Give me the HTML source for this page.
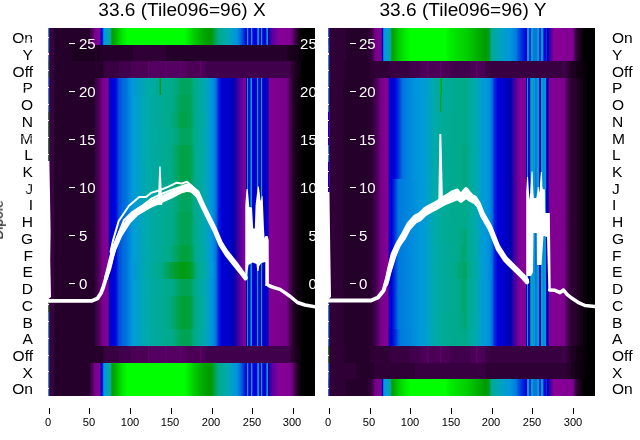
<!DOCTYPE html>
<html><head><meta charset="utf-8"><style>
html,body{margin:0;padding:0}
body{width:640px;height:440px;background:#fff;position:relative;overflow:hidden;font-family:"Liberation Sans",sans-serif}
.r{position:absolute;width:267px}
.lg{background:linear-gradient(to right,#670075 0.5px,#670075 1.5px,#380040 2.5px,#380040 5.5px,#25002b 6.5px,#25002b 41.5px,#4b0055 43.5px,#5d006b 45.5px,#79008a 46.5px,#850096 51.5px,#3800a3 52.5px,#0000dd 53.5px,#001cdd 54.5px,#007ddd 55.5px,#009adb 56.5px,#00a8af 61.5px,#00aa93 62.5px,#009e28 63.5px,#009c00 64.5px,#00e700 74.5px,#00ff00 79.5px,#00ff00 136.5px,#00c700 147.5px,#00a400 156.5px,#009a00 162.5px,#009a08 163.5px,#009f33 165.5px,#00a13d 166.5px,#00a97d 169.5px,#00aa8b 170.5px,#00aaab 178.5px,#0095dd 188.5px,#0070dd 192.5px,#0025dd 196.5px,#0009dd 197.5px,#0000d1 198.5px,#009cd3 199.5px,#002fdd 200.5px,#0000d1 201.5px,#0000d1 202.5px,#009cd3 203.5px,#0041dd 204.5px,#0000dd 205.5px,#0000dd 208.5px,#0078dd 209.5px,#009cd3 210.5px,#0000d1 211.5px,#0000d1 212.5px,#009cd3 213.5px,#0025dd 214.5px,#0000c9 215.5px,#0000c9 217.5px,#0067dd 218.5px,#0098dd 219.5px,#0300aa 220.5px,#2d00a4 221.5px,#3800a3 222.5px,#4d00a0 223.5px,#63009e 225.5px,#63009e 226.5px,#78009b 228.5px,#78009b 229.5px,#870098 231.5px,#820093 240.5px,#79008a 243.5px,#380040 247.5px,#000000 253.5px,#000000 266.5px)}
.ld1{background:linear-gradient(to right,#670075 0.5px,#670075 1.5px,#380040 2.5px,#380040 5.5px,#25002b 6.5px,#25002b 23.5px,#1c0020 24.5px,#1c0020 46.5px,#25002b 47.5px,#25002b 48.5px,#1c0020 49.5px,#1c0020 51.5px,#25002b 52.5px,#25002b 84.5px,#2f0035 85.5px,#2f0035 117.5px,#25002b 118.5px,#25002b 238.5px,#1c0020 239.5px,#130015 250.5px,#09000b 251.5px,#09000b 254.5px,#000000 255.5px,#000000 266.5px)}
.ld2{background:linear-gradient(to right,#670075 0.5px,#670075 1.5px,#380040 2.5px,#380040 5.5px,#25002b 6.5px,#25002b 54.5px,#380040 56.5px,#380040 70.5px,#41004b 71.5px,#41004b 82.5px,#4b0055 83.5px,#4b0055 99.5px,#5d006b 100.5px,#4b0055 102.5px,#540060 103.5px,#540060 116.5px,#5d006b 117.5px,#5d006b 118.5px,#540060 119.5px,#540060 131.5px,#5d006b 132.5px,#540060 133.5px,#540060 138.5px,#4b0055 139.5px,#4b0055 151.5px,#5d006b 152.5px,#4b0055 154.5px,#4b0055 157.5px,#41004b 158.5px,#41004b 241.5px,#2f0035 243.5px,#2f0035 244.5px,#130015 249.5px,#130015 251.5px,#000000 254.5px,#000000 266.5px)}
.lm3{background:linear-gradient(to right,#670075 0.5px,#670075 1.5px,#380040 2.5px,#380040 5.5px,#25002b 6.5px,#25002b 44.5px,#1c0020 45.5px,#2f0035 46.5px,#41004b 48.5px,#41004b 49.5px,#79008a 54.5px,#860097 59.5px,#58009f 60.5px,#0000b1 61.5px,#0000d1 62.5px,#0000d9 64.5px,#0000dd 66.5px,#0013dd 68.5px,#002fdd 69.5px,#0054dd 71.5px,#0054dd 72.5px,#0067dd 74.5px,#0070dd 77.5px,#0095dd 83.5px,#00aaa8 99.5px,#00aa98 110.5px,#00a55d 111.5px,#009a00 112.5px,#00aa95 113.5px,#00aa88 125.5px,#00a97d 126.5px,#00a97d 128.5px,#00a55d 133.5px,#00a55d 142.5px,#00aa8b 146.5px,#00a7b3 157.5px,#009adb 162.5px,#0085dd 166.5px,#0067dd 168.5px,#0025dd 170.5px,#0013dd 171.5px,#0000d9 173.5px,#0000c1 183.5px,#0000b1 185.5px,#2300a6 188.5px,#3800a3 189.5px,#83009a 196.5px,#83009a 197.5px,#0000b1 198.5px,#00a3bf 199.5px,#0013dd 200.5px,#0000c1 201.5px,#005ddd 202.5px,#009cd3 203.5px,#0000d1 204.5px,#0000d1 208.5px,#009fcb 209.5px,#0025dd 210.5px,#0000d1 211.5px,#0000d1 212.5px,#00aaab 213.5px,#0013dd 214.5px,#0000b9 215.5px,#0000b9 216.5px,#0000d1 217.5px,#0000d1 219.5px,#3800a3 220.5px,#810092 221.5px,#79008a 238.5px,#700080 239.5px,#4b0055 241.5px,#25002b 245.5px,#25002b 246.5px,#130015 248.5px,#130015 249.5px,#09000b 250.5px,#09000b 253.5px,#000000 254.5px,#000000 266.5px)}
.lm4{background:linear-gradient(to right,#670075 0.5px,#670075 1.5px,#380040 2.5px,#380040 5.5px,#25002b 6.5px,#25002b 44.5px,#1c0020 45.5px,#2f0035 46.5px,#41004b 48.5px,#41004b 49.5px,#79008a 54.5px,#860097 59.5px,#58009f 60.5px,#0000b1 61.5px,#0000d1 62.5px,#0000dd 66.5px,#0013dd 68.5px,#002fdd 69.5px,#0054dd 71.5px,#0054dd 72.5px,#0067dd 74.5px,#0070dd 77.5px,#009adb 84.5px,#00aaa8 99.5px,#00aa88 124.5px,#00a353 133.5px,#00a353 142.5px,#00a55d 143.5px,#00a773 144.5px,#00aa88 146.5px,#00a7b3 157.5px,#009adb 162.5px,#0085dd 166.5px,#0067dd 168.5px,#0025dd 170.5px,#0013dd 171.5px,#0000d9 173.5px,#0000c1 183.5px,#0000b1 185.5px,#2300a6 188.5px,#3800a3 189.5px,#83009a 196.5px,#83009a 197.5px,#0000b1 198.5px,#00a3bf 199.5px,#0013dd 200.5px,#0000c1 201.5px,#005ddd 202.5px,#009cd3 203.5px,#0000d1 204.5px,#0000d1 208.5px,#009fcb 209.5px,#0025dd 210.5px,#0000d1 211.5px,#0000d1 212.5px,#00aaab 213.5px,#0013dd 214.5px,#0000b9 215.5px,#0000b9 216.5px,#0000d1 217.5px,#0000d1 219.5px,#3800a3 220.5px,#810092 221.5px,#79008a 238.5px,#700080 239.5px,#4b0055 241.5px,#25002b 245.5px,#25002b 246.5px,#130015 248.5px,#130015 249.5px,#09000b 250.5px,#09000b 253.5px,#000000 254.5px,#000000 266.5px)}
.lm5{background:linear-gradient(to right,#670075 0.5px,#670075 1.5px,#380040 2.5px,#380040 5.5px,#25002b 6.5px,#25002b 44.5px,#1c0020 45.5px,#2f0035 46.5px,#41004b 48.5px,#41004b 49.5px,#79008a 54.5px,#860097 59.5px,#58009f 60.5px,#0000b1 61.5px,#0000d1 62.5px,#0000dd 66.5px,#0013dd 68.5px,#002fdd 69.5px,#0054dd 71.5px,#0054dd 72.5px,#0067dd 74.5px,#0070dd 77.5px,#009adb 84.5px,#00aaa8 99.5px,#00aa88 123.5px,#00a97d 124.5px,#00a668 129.5px,#00a353 131.5px,#00a353 132.5px,#00a248 133.5px,#00a248 138.5px,#00a353 139.5px,#00a353 142.5px,#00a668 144.5px,#00a97d 145.5px,#00aa88 146.5px,#00aaab 156.5px,#009adb 162.5px,#0085dd 166.5px,#0067dd 168.5px,#0025dd 170.5px,#0013dd 171.5px,#0000d9 173.5px,#0000c1 183.5px,#0000b1 185.5px,#2300a6 188.5px,#3800a3 189.5px,#83009a 196.5px,#83009a 197.5px,#0000b1 198.5px,#00a3bf 199.5px,#0013dd 200.5px,#0000c1 201.5px,#005ddd 202.5px,#009cd3 203.5px,#0000d1 204.5px,#0000d1 208.5px,#009fcb 209.5px,#0025dd 210.5px,#0000d1 211.5px,#0000d1 212.5px,#00aaab 213.5px,#0013dd 214.5px,#0000b9 215.5px,#0000b9 216.5px,#0000d1 217.5px,#0000d1 219.5px,#3800a3 220.5px,#810092 221.5px,#79008a 238.5px,#700080 239.5px,#4b0055 241.5px,#25002b 245.5px,#25002b 246.5px,#130015 248.5px,#130015 249.5px,#09000b 250.5px,#09000b 253.5px,#000000 254.5px,#000000 266.5px)}
.lm6{background:linear-gradient(to right,#670075 0.5px,#670075 1.5px,#380040 2.5px,#380040 5.5px,#25002b 6.5px,#25002b 44.5px,#1c0020 45.5px,#2f0035 46.5px,#41004b 48.5px,#41004b 49.5px,#79008a 54.5px,#860097 59.5px,#58009f 60.5px,#0000b1 61.5px,#0000d1 62.5px,#0000dd 66.5px,#0013dd 68.5px,#002fdd 69.5px,#0054dd 71.5px,#0054dd 72.5px,#0067dd 74.5px,#0070dd 77.5px,#009adb 84.5px,#00aaa8 99.5px,#00aa88 125.5px,#00a97d 126.5px,#00a97d 128.5px,#00a55d 133.5px,#00a55d 142.5px,#00aa8b 146.5px,#00a7b3 157.5px,#009adb 162.5px,#0085dd 166.5px,#0067dd 168.5px,#0025dd 170.5px,#0013dd 171.5px,#0000d9 173.5px,#0000c1 183.5px,#0000b1 185.5px,#2300a6 188.5px,#3800a3 189.5px,#83009a 196.5px,#83009a 197.5px,#0000b1 198.5px,#00a3bf 199.5px,#0013dd 200.5px,#0000c1 201.5px,#005ddd 202.5px,#009cd3 203.5px,#0000d1 204.5px,#0000d1 208.5px,#009fcb 209.5px,#0025dd 210.5px,#0000d1 211.5px,#0000d1 212.5px,#00aaab 213.5px,#0013dd 214.5px,#0000b9 215.5px,#0000b9 216.5px,#0000d1 217.5px,#0000d1 219.5px,#3800a3 220.5px,#810092 221.5px,#79008a 238.5px,#700080 239.5px,#4b0055 241.5px,#25002b 245.5px,#25002b 246.5px,#130015 248.5px,#130015 249.5px,#09000b 250.5px,#09000b 253.5px,#000000 254.5px,#000000 266.5px)}
.lm7{background:linear-gradient(to right,#670075 0.5px,#670075 1.5px,#380040 2.5px,#380040 5.5px,#25002b 6.5px,#25002b 44.5px,#1c0020 45.5px,#2f0035 46.5px,#41004b 48.5px,#41004b 49.5px,#79008a 54.5px,#860097 59.5px,#58009f 60.5px,#0000b1 61.5px,#0000d1 62.5px,#0000dd 66.5px,#0013dd 68.5px,#002fdd 69.5px,#0054dd 71.5px,#0054dd 72.5px,#0067dd 74.5px,#0070dd 77.5px,#009adb 84.5px,#00aaa8 99.5px,#00aa88 123.5px,#00a97d 124.5px,#00a97d 125.5px,#00a668 127.5px,#00a55d 130.5px,#00a248 132.5px,#00a248 141.5px,#00a353 142.5px,#00a353 143.5px,#00aa88 146.5px,#00aaab 156.5px,#009adb 162.5px,#0085dd 166.5px,#0067dd 168.5px,#0025dd 170.5px,#0013dd 171.5px,#0000d9 173.5px,#0000c1 183.5px,#0000b1 185.5px,#2300a6 188.5px,#3800a3 189.5px,#83009a 196.5px,#83009a 197.5px,#0000b1 198.5px,#00a3bf 199.5px,#0013dd 200.5px,#0000c1 201.5px,#005ddd 202.5px,#009cd3 203.5px,#0000d1 204.5px,#0000d1 208.5px,#009fcb 209.5px,#0025dd 210.5px,#0000d1 211.5px,#0000d1 212.5px,#00aaab 213.5px,#0013dd 214.5px,#0000b9 215.5px,#0000b9 216.5px,#0000d1 217.5px,#0000d1 219.5px,#3800a3 220.5px,#810092 221.5px,#79008a 238.5px,#700080 239.5px,#4b0055 241.5px,#25002b 245.5px,#25002b 246.5px,#130015 248.5px,#130015 249.5px,#09000b 250.5px,#09000b 253.5px,#000000 254.5px,#000000 266.5px)}
.lm13{background:linear-gradient(to right,#670075 0.5px,#670075 1.5px,#380040 2.5px,#380040 5.5px,#25002b 6.5px,#25002b 44.5px,#1c0020 45.5px,#2f0035 46.5px,#41004b 48.5px,#41004b 49.5px,#79008a 54.5px,#860097 59.5px,#58009f 60.5px,#0000b1 61.5px,#0000d1 62.5px,#0000dd 66.5px,#0013dd 68.5px,#002fdd 69.5px,#0054dd 71.5px,#0054dd 72.5px,#0067dd 74.5px,#0070dd 77.5px,#009adb 84.5px,#00aaa8 99.5px,#00aa88 122.5px,#00a773 124.5px,#00a55d 129.5px,#00a248 131.5px,#00a248 132.5px,#00a13d 133.5px,#00a13d 139.5px,#00a248 140.5px,#00a248 142.5px,#00a55d 144.5px,#00a773 145.5px,#00aa8b 147.5px,#00aaab 156.5px,#009adb 162.5px,#0092dd 164.5px,#007add 167.5px,#0067dd 168.5px,#0025dd 170.5px,#0013dd 171.5px,#0000d9 173.5px,#0000c1 183.5px,#0000b1 185.5px,#2300a6 188.5px,#3800a3 189.5px,#83009a 196.5px,#83009a 197.5px,#0000b1 198.5px,#00a3bf 199.5px,#0013dd 200.5px,#0000c1 201.5px,#005ddd 202.5px,#009cd3 203.5px,#0000d1 204.5px,#0000d1 208.5px,#009fcb 209.5px,#0025dd 210.5px,#0000d1 211.5px,#0000d1 212.5px,#00aaab 213.5px,#0013dd 214.5px,#0000b9 215.5px,#0000b9 216.5px,#0000d1 217.5px,#0000d1 219.5px,#3800a3 220.5px,#810092 221.5px,#79008a 238.5px,#700080 239.5px,#4b0055 241.5px,#25002b 245.5px,#25002b 246.5px,#130015 248.5px,#130015 249.5px,#09000b 250.5px,#09000b 253.5px,#000000 254.5px,#000000 266.5px)}
.lm14{background:linear-gradient(to right,#670075 0.5px,#670075 1.5px,#380040 2.5px,#380040 5.5px,#25002b 6.5px,#25002b 44.5px,#1c0020 45.5px,#2f0035 46.5px,#41004b 48.5px,#41004b 49.5px,#79008a 54.5px,#860097 59.5px,#58009f 60.5px,#0000b1 61.5px,#0000d1 62.5px,#0000d9 64.5px,#0000dd 66.5px,#0013dd 68.5px,#002fdd 69.5px,#0054dd 71.5px,#0054dd 72.5px,#0067dd 74.5px,#0070dd 77.5px,#0095dd 83.5px,#00aaab 97.5px,#00aa88 113.5px,#00a97d 114.5px,#00a97d 115.5px,#00a668 117.5px,#00a668 118.5px,#00a353 120.5px,#00a353 121.5px,#00a13d 123.5px,#00a13d 124.5px,#009e28 127.5px,#009e28 129.5px,#009b13 132.5px,#009b13 137.5px,#009d1d 138.5px,#009d1d 141.5px,#00a13d 144.5px,#00a773 147.5px,#00aa8b 149.5px,#00aaab 157.5px,#0098dd 163.5px,#0090dd 165.5px,#007ddd 167.5px,#0067dd 168.5px,#0025dd 170.5px,#0000d9 173.5px,#0000c5 182.5px,#0000bd 184.5px,#0000b1 185.5px,#2300a6 188.5px,#3800a3 189.5px,#83009a 196.5px,#83009a 197.5px,#0000b1 198.5px,#00a3bf 199.5px,#0013dd 200.5px,#0000c1 201.5px,#005ddd 202.5px,#009cd3 203.5px,#0000d1 204.5px,#0000d1 208.5px,#009fcb 209.5px,#0025dd 210.5px,#0000d1 211.5px,#0000d1 212.5px,#00aaab 213.5px,#0013dd 214.5px,#0000b9 215.5px,#0000b9 216.5px,#0000d1 217.5px,#0000d1 219.5px,#3800a3 220.5px,#810092 221.5px,#79008a 238.5px,#700080 239.5px,#4b0055 241.5px,#25002b 245.5px,#25002b 246.5px,#130015 248.5px,#130015 249.5px,#09000b 250.5px,#09000b 253.5px,#000000 254.5px,#000000 266.5px)}
.lm16{background:linear-gradient(to right,#670075 0.5px,#670075 1.5px,#380040 2.5px,#380040 5.5px,#25002b 6.5px,#25002b 44.5px,#1c0020 45.5px,#2f0035 46.5px,#41004b 48.5px,#41004b 49.5px,#79008a 54.5px,#860097 59.5px,#58009f 60.5px,#0000b1 61.5px,#0000d1 62.5px,#0000dd 66.5px,#0013dd 68.5px,#002fdd 69.5px,#0054dd 71.5px,#0054dd 72.5px,#0067dd 74.5px,#0070dd 77.5px,#009adb 84.5px,#00aaa8 99.5px,#00aa88 121.5px,#00a97d 122.5px,#00a97d 123.5px,#00a668 125.5px,#00a668 126.5px,#00a353 128.5px,#00a248 131.5px,#009f33 134.5px,#009f33 136.5px,#00a13d 137.5px,#00a13d 142.5px,#00aa88 147.5px,#00aaab 156.5px,#009adb 162.5px,#0098dd 163.5px,#007add 167.5px,#0067dd 168.5px,#0025dd 170.5px,#0013dd 171.5px,#0000d9 173.5px,#0000c1 183.5px,#0000b1 185.5px,#2300a6 188.5px,#3800a3 189.5px,#83009a 196.5px,#83009a 197.5px,#0000b1 198.5px,#00a3bf 199.5px,#0013dd 200.5px,#0000c1 201.5px,#005ddd 202.5px,#009cd3 203.5px,#0000d1 204.5px,#0000d1 208.5px,#009fcb 209.5px,#0025dd 210.5px,#0000d1 211.5px,#0000d1 212.5px,#00aaab 213.5px,#0013dd 214.5px,#0000b9 215.5px,#0000b9 216.5px,#0000d1 217.5px,#0000d1 219.5px,#3800a3 220.5px,#810092 221.5px,#79008a 238.5px,#700080 239.5px,#4b0055 241.5px,#25002b 245.5px,#25002b 246.5px,#130015 248.5px,#130015 249.5px,#09000b 250.5px,#09000b 253.5px,#000000 254.5px,#000000 266.5px)}
.rg{background:linear-gradient(to right,#5d006b 0.5px,#5d006b 1.5px,#2f0035 2.5px,#2f0035 17.5px,#25002b 18.5px,#25002b 39.5px,#2f0035 40.5px,#2f0035 42.5px,#380040 43.5px,#770088 47.5px,#830094 52.5px,#63009e 53.5px,#0000bd 54.5px,#0078dd 55.5px,#009adb 56.5px,#00a2c3 61.5px,#00aa98 62.5px,#009e28 63.5px,#009c00 64.5px,#00bf00 68.5px,#00e400 75.5px,#00ff00 82.5px,#00ff00 117.5px,#00ea00 122.5px,#00d200 137.5px,#009a00 157.5px,#009d1d 160.5px,#009f33 161.5px,#00aa8d 163.5px,#00aa98 164.5px,#009fcb 175.5px,#0095dd 182.5px,#0078dd 188.5px,#0054dd 190.5px,#0041dd 192.5px,#002fdd 193.5px,#0013dd 196.5px,#0000dd 197.5px,#0000dd 198.5px,#009fcb 199.5px,#009fcb 200.5px,#002fdd 201.5px,#002fdd 202.5px,#009fcb 203.5px,#009fcb 204.5px,#0078dd 205.5px,#0078dd 208.5px,#009fcb 209.5px,#009fcb 210.5px,#002fdd 211.5px,#002fdd 212.5px,#009fcb 213.5px,#009fcb 214.5px,#0038dd 215.5px,#0000dd 216.5px,#0009dd 217.5px,#002fdd 218.5px,#0000bd 219.5px,#0000bd 220.5px,#3800a3 221.5px,#4d00a0 222.5px,#58009f 223.5px,#83009a 225.5px,#870098 226.5px,#820093 243.5px,#770088 245.5px,#540060 246.5px,#41004b 247.5px,#1c0020 250.5px,#130015 253.5px,#000000 256.5px,#000000 266.5px)}
.rd2{background:linear-gradient(to right,#5d006b 0.5px,#5d006b 1.5px,#2f0035 2.5px,#2f0035 15.5px,#25002b 16.5px,#25002b 41.5px,#2f0035 42.5px,#2f0035 61.5px,#380040 62.5px,#380040 81.5px,#41004b 82.5px,#41004b 91.5px,#4b0055 92.5px,#4b0055 98.5px,#5d006b 99.5px,#4b0055 101.5px,#4b0055 111.5px,#5d006b 112.5px,#4b0055 114.5px,#4b0055 121.5px,#41004b 122.5px,#41004b 141.5px,#4b0055 142.5px,#4b0055 147.5px,#5d006b 148.5px,#4b0055 150.5px,#4b0055 156.5px,#380040 158.5px,#380040 233.5px,#41004b 234.5px,#41004b 236.5px,#25002b 241.5px,#25002b 243.5px,#1c0020 244.5px,#1c0020 247.5px,#130015 248.5px,#09000b 257.5px,#000000 258.5px,#000000 266.5px)}
.rm3{background:linear-gradient(to right,#5d006b 0.5px,#5d006b 1.5px,#2f0035 2.5px,#2f0035 14.5px,#25002b 15.5px,#25002b 42.5px,#2f0035 43.5px,#2f0035 44.5px,#41004b 46.5px,#41004b 47.5px,#670075 51.5px,#770088 52.5px,#860097 59.5px,#58009f 60.5px,#0000b9 61.5px,#0000d1 62.5px,#0000dd 66.5px,#002fdd 70.5px,#0067dd 73.5px,#0078dd 75.5px,#0090dd 84.5px,#0098dd 91.5px,#009ecf 98.5px,#00aaa8 106.5px,#00aa9d 111.5px,#00bc00 112.5px,#009e28 113.5px,#00aa9b 114.5px,#00aa88 137.5px,#00aa9b 141.5px,#00aaa8 147.5px,#00a0c7 151.5px,#0098dd 158.5px,#008ddd 161.5px,#007add 163.5px,#0067dd 164.5px,#0025dd 166.5px,#0013dd 168.5px,#0000dd 169.5px,#0000bd 180.5px,#0000b1 182.5px,#0d00a8 183.5px,#3800a3 185.5px,#58009f 188.5px,#6d009c 189.5px,#870098 193.5px,#850096 197.5px,#0000c9 198.5px,#00a3bf 199.5px,#0009dd 200.5px,#0000b1 201.5px,#0078dd 202.5px,#00a7b3 203.5px,#00a7b3 204.5px,#0098dd 205.5px,#0098dd 206.5px,#0070dd 207.5px,#007ddd 208.5px,#00a3bf 209.5px,#00a3bf 210.5px,#0000dd 211.5px,#0000dd 212.5px,#00a7b3 213.5px,#00a7b3 214.5px,#0088dd 215.5px,#0098dd 216.5px,#0098dd 217.5px,#0000dd 218.5px,#0000b1 219.5px,#2300a6 220.5px,#820093 221.5px,#7e008f 235.5px,#7a008b 236.5px,#540060 238.5px,#380040 241.5px,#380040 242.5px,#2f0035 243.5px,#25002b 248.5px,#1c0020 249.5px,#1c0020 251.5px,#130015 252.5px,#130015 254.5px,#09000b 255.5px,#09000b 258.5px,#000000 259.5px,#000000 266.5px)}
.rm4{background:linear-gradient(to right,#5d006b 0.5px,#5d006b 1.5px,#2f0035 2.5px,#2f0035 14.5px,#25002b 15.5px,#25002b 42.5px,#2f0035 43.5px,#2f0035 44.5px,#41004b 46.5px,#41004b 47.5px,#670075 51.5px,#770088 52.5px,#860097 59.5px,#58009f 60.5px,#0000b9 61.5px,#0000d1 62.5px,#0000dd 66.5px,#002fdd 70.5px,#0067dd 73.5px,#0078dd 75.5px,#0090dd 84.5px,#009adb 93.5px,#009ecf 98.5px,#00aaa8 106.5px,#00aa9d 111.5px,#009d1d 112.5px,#00a773 113.5px,#00aa9b 114.5px,#00aa88 137.5px,#00aa9b 141.5px,#00aaa8 147.5px,#00a0c7 151.5px,#0098dd 158.5px,#008ddd 161.5px,#007add 163.5px,#0067dd 164.5px,#0025dd 166.5px,#0013dd 168.5px,#0000dd 169.5px,#0000bd 180.5px,#0000b1 182.5px,#0d00a8 183.5px,#3800a3 185.5px,#58009f 188.5px,#6d009c 189.5px,#870098 193.5px,#850096 197.5px,#0000c9 198.5px,#00a3bf 199.5px,#0009dd 200.5px,#0000b1 201.5px,#0078dd 202.5px,#00a7b3 203.5px,#00a7b3 204.5px,#0098dd 205.5px,#0098dd 206.5px,#0070dd 207.5px,#007ddd 208.5px,#00a3bf 209.5px,#00a3bf 210.5px,#0000dd 211.5px,#0000dd 212.5px,#00a7b3 213.5px,#00a7b3 214.5px,#0088dd 215.5px,#0098dd 216.5px,#0098dd 217.5px,#0000dd 218.5px,#0000b1 219.5px,#2300a6 220.5px,#820093 221.5px,#7e008f 235.5px,#7a008b 236.5px,#540060 238.5px,#380040 241.5px,#380040 242.5px,#2f0035 243.5px,#25002b 248.5px,#1c0020 249.5px,#1c0020 251.5px,#130015 252.5px,#130015 254.5px,#09000b 255.5px,#09000b 258.5px,#000000 259.5px,#000000 266.5px)}
.rm5{background:linear-gradient(to right,#5d006b 0.5px,#5d006b 1.5px,#2f0035 2.5px,#2f0035 14.5px,#25002b 15.5px,#25002b 42.5px,#2f0035 43.5px,#2f0035 44.5px,#41004b 46.5px,#41004b 47.5px,#670075 51.5px,#770088 52.5px,#860097 59.5px,#58009f 60.5px,#0000b9 61.5px,#0000d1 62.5px,#0000dd 66.5px,#002fdd 70.5px,#0067dd 73.5px,#0078dd 75.5px,#0090dd 84.5px,#009adb 93.5px,#009ecf 98.5px,#00aaa8 106.5px,#00aa95 117.5px,#00aa88 137.5px,#00aa9b 141.5px,#00aaa8 147.5px,#00a0c7 151.5px,#0098dd 158.5px,#008ddd 161.5px,#007add 163.5px,#0067dd 164.5px,#0025dd 166.5px,#0013dd 168.5px,#0000dd 169.5px,#0000bd 180.5px,#0000b1 182.5px,#0d00a8 183.5px,#3800a3 185.5px,#58009f 188.5px,#6d009c 189.5px,#870098 193.5px,#850096 197.5px,#0000c9 198.5px,#00a3bf 199.5px,#0009dd 200.5px,#0000b1 201.5px,#0078dd 202.5px,#00a7b3 203.5px,#00a7b3 204.5px,#0098dd 205.5px,#0098dd 206.5px,#0070dd 207.5px,#007ddd 208.5px,#00a3bf 209.5px,#00a3bf 210.5px,#0000dd 211.5px,#0000dd 212.5px,#00a7b3 213.5px,#00a7b3 214.5px,#0088dd 215.5px,#0098dd 216.5px,#0098dd 217.5px,#0000dd 218.5px,#0000b1 219.5px,#2300a6 220.5px,#820093 221.5px,#7e008f 235.5px,#7a008b 236.5px,#540060 238.5px,#380040 241.5px,#380040 242.5px,#2f0035 243.5px,#25002b 248.5px,#1c0020 249.5px,#1c0020 251.5px,#130015 252.5px,#130015 254.5px,#09000b 255.5px,#09000b 258.5px,#000000 259.5px,#000000 266.5px)}
.rm7{background:linear-gradient(to right,#5d006b 0.5px,#5d006b 1.5px,#2f0035 2.5px,#2f0035 14.5px,#25002b 15.5px,#25002b 42.5px,#2f0035 43.5px,#2f0035 44.5px,#41004b 46.5px,#41004b 47.5px,#670075 51.5px,#770088 52.5px,#860097 59.5px,#58009f 60.5px,#0000b9 61.5px,#0000d1 62.5px,#0000dd 66.5px,#002fdd 70.5px,#0067dd 73.5px,#0078dd 75.5px,#0090dd 84.5px,#009adb 93.5px,#009ecf 98.5px,#00aaa8 106.5px,#00aa95 117.5px,#00aa88 134.5px,#00a97d 135.5px,#00a97d 137.5px,#00aa98 141.5px,#00aaab 148.5px,#009fcb 152.5px,#0098dd 158.5px,#008ddd 161.5px,#007add 163.5px,#0067dd 164.5px,#0025dd 166.5px,#0013dd 168.5px,#0000dd 169.5px,#0000bd 180.5px,#0000b1 182.5px,#0d00a8 183.5px,#3800a3 185.5px,#58009f 188.5px,#6d009c 189.5px,#870098 193.5px,#850096 197.5px,#0000c9 198.5px,#00a3bf 199.5px,#0009dd 200.5px,#0000b1 201.5px,#0078dd 202.5px,#00a7b3 203.5px,#00a7b3 204.5px,#0098dd 205.5px,#0098dd 206.5px,#0070dd 207.5px,#007ddd 208.5px,#00a3bf 209.5px,#00a3bf 210.5px,#0000dd 211.5px,#0000dd 212.5px,#00a7b3 213.5px,#00a7b3 214.5px,#0088dd 215.5px,#0098dd 216.5px,#0098dd 217.5px,#0000dd 218.5px,#0000b1 219.5px,#2300a6 220.5px,#820093 221.5px,#7e008f 235.5px,#7a008b 236.5px,#540060 238.5px,#380040 241.5px,#380040 242.5px,#2f0035 243.5px,#25002b 248.5px,#1c0020 249.5px,#1c0020 251.5px,#130015 252.5px,#130015 254.5px,#09000b 255.5px,#09000b 258.5px,#000000 259.5px,#000000 266.5px)}
.rm9{background:linear-gradient(to right,#5d006b 0.5px,#5d006b 1.5px,#2f0035 2.5px,#2f0035 14.5px,#25002b 15.5px,#25002b 42.5px,#2f0035 43.5px,#2f0035 44.5px,#41004b 46.5px,#41004b 47.5px,#670075 51.5px,#770088 52.5px,#860097 59.5px,#4d00a0 60.5px,#0000bd 61.5px,#0000d9 62.5px,#0000dd 63.5px,#001cdd 65.5px,#0078dd 70.5px,#009adb 93.5px,#009ecf 98.5px,#00aaa8 106.5px,#00aa95 117.5px,#00aa88 134.5px,#00a97d 135.5px,#00a97d 137.5px,#00aa98 141.5px,#00aaab 148.5px,#009fcb 152.5px,#0098dd 158.5px,#008ddd 161.5px,#007add 163.5px,#0067dd 164.5px,#0025dd 166.5px,#0013dd 168.5px,#0000dd 169.5px,#0000bd 180.5px,#0000b1 182.5px,#0d00a8 183.5px,#3800a3 185.5px,#58009f 188.5px,#6d009c 189.5px,#870098 193.5px,#850096 197.5px,#0000c9 198.5px,#00a3bf 199.5px,#0009dd 200.5px,#0000b1 201.5px,#0078dd 202.5px,#00a7b3 203.5px,#00a7b3 204.5px,#0098dd 205.5px,#0098dd 206.5px,#0070dd 207.5px,#007ddd 208.5px,#00a3bf 209.5px,#00a3bf 210.5px,#0000dd 211.5px,#0000dd 212.5px,#00a7b3 213.5px,#00a7b3 214.5px,#0088dd 215.5px,#0098dd 216.5px,#0098dd 217.5px,#0000dd 218.5px,#0000b1 219.5px,#2300a6 220.5px,#820093 221.5px,#7e008f 235.5px,#7a008b 236.5px,#540060 238.5px,#380040 241.5px,#380040 242.5px,#2f0035 243.5px,#25002b 248.5px,#1c0020 249.5px,#1c0020 251.5px,#130015 252.5px,#130015 254.5px,#09000b 255.5px,#09000b 258.5px,#000000 259.5px,#000000 266.5px)}
.rm10{background:linear-gradient(to right,#5d006b 0.5px,#5d006b 1.5px,#2f0035 2.5px,#2f0035 14.5px,#25002b 15.5px,#25002b 42.5px,#2f0035 43.5px,#2f0035 44.5px,#41004b 46.5px,#41004b 47.5px,#670075 51.5px,#770088 52.5px,#860097 59.5px,#4d00a0 60.5px,#0000bd 61.5px,#0000d9 62.5px,#0000dd 63.5px,#001cdd 65.5px,#0078dd 70.5px,#009adb 93.5px,#009ecf 98.5px,#00aaa8 106.5px,#00aa95 117.5px,#00aa88 137.5px,#00aa9b 141.5px,#00aaa8 147.5px,#00a0c7 151.5px,#0098dd 158.5px,#008ddd 161.5px,#007add 163.5px,#0067dd 164.5px,#0025dd 166.5px,#0013dd 168.5px,#0000dd 169.5px,#0000bd 180.5px,#0000b1 182.5px,#0d00a8 183.5px,#3800a3 185.5px,#58009f 188.5px,#6d009c 189.5px,#870098 193.5px,#850096 197.5px,#0000c9 198.5px,#00a3bf 199.5px,#0009dd 200.5px,#0000b1 201.5px,#0078dd 202.5px,#00a7b3 203.5px,#00a7b3 204.5px,#0098dd 205.5px,#0098dd 206.5px,#0070dd 207.5px,#007ddd 208.5px,#00a3bf 209.5px,#00a3bf 210.5px,#0000dd 211.5px,#0000dd 212.5px,#00a7b3 213.5px,#00a7b3 214.5px,#0088dd 215.5px,#0098dd 216.5px,#0098dd 217.5px,#0000dd 218.5px,#0000b1 219.5px,#2300a6 220.5px,#820093 221.5px,#7e008f 235.5px,#7a008b 236.5px,#540060 238.5px,#380040 241.5px,#380040 242.5px,#2f0035 243.5px,#25002b 248.5px,#1c0020 249.5px,#1c0020 251.5px,#130015 252.5px,#130015 254.5px,#09000b 255.5px,#09000b 258.5px,#000000 259.5px,#000000 266.5px)}
.rm12{background:linear-gradient(to right,#5d006b 0.5px,#5d006b 1.5px,#2f0035 2.5px,#2f0035 14.5px,#25002b 15.5px,#25002b 42.5px,#2f0035 43.5px,#2f0035 44.5px,#41004b 46.5px,#41004b 47.5px,#670075 51.5px,#770088 52.5px,#860097 59.5px,#4d00a0 60.5px,#0000bd 61.5px,#0000d9 62.5px,#0000dd 63.5px,#001cdd 65.5px,#0078dd 70.5px,#009adb 93.5px,#009ecf 98.5px,#00aaa8 106.5px,#00aa95 117.5px,#00aa88 132.5px,#00a97d 133.5px,#00a97d 135.5px,#00a773 136.5px,#00a773 137.5px,#00aa8b 139.5px,#00aa9b 142.5px,#00aaab 148.5px,#009fcb 152.5px,#0098dd 158.5px,#008ddd 161.5px,#007add 163.5px,#0067dd 164.5px,#0025dd 166.5px,#0013dd 168.5px,#0000dd 169.5px,#0000bd 180.5px,#0000b1 182.5px,#0d00a8 183.5px,#3800a3 185.5px,#58009f 188.5px,#6d009c 189.5px,#870098 193.5px,#850096 197.5px,#0000c9 198.5px,#00a3bf 199.5px,#0009dd 200.5px,#0000b1 201.5px,#0078dd 202.5px,#00a7b3 203.5px,#00a7b3 204.5px,#0098dd 205.5px,#0098dd 206.5px,#0070dd 207.5px,#007ddd 208.5px,#00a3bf 209.5px,#00a3bf 210.5px,#0000dd 211.5px,#0000dd 212.5px,#00a7b3 213.5px,#00a7b3 214.5px,#0088dd 215.5px,#0098dd 216.5px,#0098dd 217.5px,#0000dd 218.5px,#0000b1 219.5px,#2300a6 220.5px,#820093 221.5px,#7e008f 235.5px,#7a008b 236.5px,#540060 238.5px,#380040 241.5px,#380040 242.5px,#2f0035 243.5px,#25002b 248.5px,#1c0020 249.5px,#1c0020 251.5px,#130015 252.5px,#130015 254.5px,#09000b 255.5px,#09000b 258.5px,#000000 259.5px,#000000 266.5px)}
.rm13{background:linear-gradient(to right,#5d006b 0.5px,#5d006b 1.5px,#2f0035 2.5px,#2f0035 14.5px,#25002b 15.5px,#25002b 42.5px,#2f0035 43.5px,#2f0035 44.5px,#41004b 46.5px,#41004b 47.5px,#670075 51.5px,#770088 52.5px,#860097 59.5px,#4d00a0 60.5px,#0000bd 61.5px,#0000d9 62.5px,#0000dd 63.5px,#001cdd 65.5px,#0078dd 70.5px,#009adb 93.5px,#009ecf 98.5px,#00aaa8 106.5px,#00aa88 131.5px,#00a773 134.5px,#00a773 137.5px,#00aa8b 139.5px,#00aa95 141.5px,#00aaa5 147.5px,#009fcb 152.5px,#0098dd 158.5px,#008ddd 161.5px,#007add 163.5px,#0067dd 164.5px,#0025dd 166.5px,#0013dd 168.5px,#0000dd 169.5px,#0000bd 180.5px,#0000b1 182.5px,#0d00a8 183.5px,#3800a3 185.5px,#58009f 188.5px,#6d009c 189.5px,#870098 193.5px,#850096 197.5px,#0000c9 198.5px,#00a3bf 199.5px,#0009dd 200.5px,#0000b1 201.5px,#0078dd 202.5px,#00a7b3 203.5px,#00a7b3 204.5px,#0098dd 205.5px,#0098dd 206.5px,#0070dd 207.5px,#007ddd 208.5px,#00a3bf 209.5px,#00a3bf 210.5px,#0000dd 211.5px,#0000dd 212.5px,#00a7b3 213.5px,#00a7b3 214.5px,#0088dd 215.5px,#0098dd 216.5px,#0098dd 217.5px,#0000dd 218.5px,#0000b1 219.5px,#2300a6 220.5px,#820093 221.5px,#7e008f 235.5px,#7a008b 236.5px,#540060 238.5px,#380040 241.5px,#380040 242.5px,#2f0035 243.5px,#25002b 248.5px,#1c0020 249.5px,#1c0020 251.5px,#130015 252.5px,#130015 254.5px,#09000b 255.5px,#09000b 258.5px,#000000 259.5px,#000000 266.5px)}
.rm14{background:linear-gradient(to right,#5d006b 0.5px,#5d006b 1.5px,#2f0035 2.5px,#2f0035 14.5px,#25002b 15.5px,#25002b 42.5px,#2f0035 43.5px,#2f0035 44.5px,#41004b 46.5px,#41004b 47.5px,#670075 51.5px,#770088 52.5px,#860097 59.5px,#4d00a0 60.5px,#0000bd 61.5px,#0000d9 62.5px,#0000dd 63.5px,#001cdd 65.5px,#0078dd 70.5px,#009adb 93.5px,#009ecf 98.5px,#00aaa8 106.5px,#00aa88 128.5px,#00a773 131.5px,#00a773 133.5px,#00a668 134.5px,#00a668 136.5px,#00a55d 137.5px,#00aa8b 140.5px,#00aaa8 148.5px,#00a0c7 152.5px,#0095dd 159.5px,#007ddd 163.5px,#0067dd 164.5px,#0025dd 166.5px,#0013dd 168.5px,#0000dd 169.5px,#0000bd 180.5px,#0000b1 182.5px,#0d00a8 183.5px,#3800a3 185.5px,#58009f 188.5px,#6d009c 189.5px,#870098 193.5px,#850096 197.5px,#0000c9 198.5px,#00a3bf 199.5px,#0009dd 200.5px,#0000b1 201.5px,#0078dd 202.5px,#00a7b3 203.5px,#00a7b3 204.5px,#0098dd 205.5px,#0098dd 206.5px,#0070dd 207.5px,#007ddd 208.5px,#00a3bf 209.5px,#00a3bf 210.5px,#0000dd 211.5px,#0000dd 212.5px,#00a7b3 213.5px,#00a7b3 214.5px,#0088dd 215.5px,#0098dd 216.5px,#0098dd 217.5px,#0000dd 218.5px,#0000b1 219.5px,#2300a6 220.5px,#820093 221.5px,#7e008f 235.5px,#7a008b 236.5px,#540060 238.5px,#380040 241.5px,#380040 242.5px,#2f0035 243.5px,#25002b 248.5px,#1c0020 249.5px,#1c0020 251.5px,#130015 252.5px,#130015 254.5px,#09000b 255.5px,#09000b 258.5px,#000000 259.5px,#000000 266.5px)}
.rm18{background:linear-gradient(to right,#5d006b 0.5px,#5d006b 1.5px,#2f0035 2.5px,#2f0035 14.5px,#25002b 15.5px,#25002b 42.5px,#2f0035 43.5px,#2f0035 44.5px,#41004b 46.5px,#41004b 47.5px,#670075 51.5px,#770088 52.5px,#860097 59.5px,#4d00a0 60.5px,#0000b9 61.5px,#0000d5 62.5px,#0000d9 63.5px,#002fdd 67.5px,#0067dd 70.5px,#0078dd 72.5px,#009adb 93.5px,#009ecf 98.5px,#00aaa8 106.5px,#00aa95 117.5px,#00aa88 137.5px,#00aa9b 141.5px,#00aaa8 147.5px,#00a0c7 151.5px,#0098dd 158.5px,#008ddd 161.5px,#007add 163.5px,#0067dd 164.5px,#0025dd 166.5px,#0013dd 168.5px,#0000dd 169.5px,#0000bd 180.5px,#0000b1 182.5px,#0d00a8 183.5px,#3800a3 185.5px,#58009f 188.5px,#6d009c 189.5px,#870098 193.5px,#850096 197.5px,#0000c9 198.5px,#00a3bf 199.5px,#0009dd 200.5px,#0000b1 201.5px,#0078dd 202.5px,#00a7b3 203.5px,#00a7b3 204.5px,#0098dd 205.5px,#0098dd 206.5px,#0070dd 207.5px,#007ddd 208.5px,#00a3bf 209.5px,#00a3bf 210.5px,#0000dd 211.5px,#0000dd 212.5px,#00a7b3 213.5px,#00a7b3 214.5px,#0088dd 215.5px,#0098dd 216.5px,#0098dd 217.5px,#0000dd 218.5px,#0000b1 219.5px,#2300a6 220.5px,#820093 221.5px,#7e008f 235.5px,#7a008b 236.5px,#540060 238.5px,#380040 241.5px,#380040 242.5px,#2f0035 243.5px,#25002b 248.5px,#1c0020 249.5px,#1c0020 251.5px,#130015 252.5px,#130015 254.5px,#09000b 255.5px,#09000b 258.5px,#000000 259.5px,#000000 266.5px)}
.rd1{background:linear-gradient(to right,#5d006b 0.5px,#5d006b 1.5px,#2f0035 2.5px,#2f0035 27.5px,#25002b 28.5px,#25002b 45.5px,#2f0035 46.5px,#2f0035 86.5px,#380040 87.5px,#380040 157.5px,#2f0035 158.5px,#2f0035 238.5px,#25002b 239.5px,#25002b 242.5px,#1c0020 243.5px,#1c0020 246.5px,#130015 247.5px,#09000b 256.5px,#000000 257.5px,#000000 266.5px)}
</style></head><body>
<div class="r lg" style="left:48px;top:28px;height:17px"></div>
<div class="r rg" style="left:328px;top:28px;height:17px"></div>
<div class="r ld1" style="left:48px;top:45px;height:16px"></div>
<div class="r rg" style="left:328px;top:45px;height:16px"></div>
<div class="r ld2" style="left:48px;top:61px;height:17px"></div>
<div class="r rd2" style="left:328px;top:61px;height:17px"></div>
<div class="r lm3" style="left:48px;top:78px;height:17px"></div>
<div class="r rm3" style="left:328px;top:78px;height:17px"></div>
<div class="r lm4" style="left:48px;top:95px;height:17px"></div>
<div class="r rm4" style="left:328px;top:95px;height:17px"></div>
<div class="r lm5" style="left:48px;top:112px;height:16px"></div>
<div class="r rm5" style="left:328px;top:112px;height:16px"></div>
<div class="r lm6" style="left:48px;top:128px;height:17px"></div>
<div class="r rm5" style="left:328px;top:128px;height:17px"></div>
<div class="r lm7" style="left:48px;top:145px;height:17px"></div>
<div class="r rm7" style="left:328px;top:145px;height:17px"></div>
<div class="r lm7" style="left:48px;top:162px;height:17px"></div>
<div class="r rm7" style="left:328px;top:162px;height:17px"></div>
<div class="r lm4" style="left:48px;top:179px;height:16px"></div>
<div class="r rm9" style="left:328px;top:179px;height:16px"></div>
<div class="r lm6" style="left:48px;top:195px;height:17px"></div>
<div class="r rm10" style="left:328px;top:195px;height:17px"></div>
<div class="r lm4" style="left:48px;top:212px;height:17px"></div>
<div class="r rm10" style="left:328px;top:212px;height:17px"></div>
<div class="r lm4" style="left:48px;top:229px;height:16px"></div>
<div class="r rm12" style="left:328px;top:229px;height:16px"></div>
<div class="r lm13" style="left:48px;top:245px;height:17px"></div>
<div class="r rm13" style="left:328px;top:245px;height:17px"></div>
<div class="r lm14" style="left:48px;top:262px;height:17px"></div>
<div class="r rm14" style="left:328px;top:262px;height:17px"></div>
<div class="r lm4" style="left:48px;top:279px;height:17px"></div>
<div class="r rm13" style="left:328px;top:279px;height:17px"></div>
<div class="r lm16" style="left:48px;top:296px;height:16px"></div>
<div class="r rm13" style="left:328px;top:296px;height:16px"></div>
<div class="r lm16" style="left:48px;top:312px;height:17px"></div>
<div class="r rm12" style="left:328px;top:312px;height:17px"></div>
<div class="r lm4" style="left:48px;top:329px;height:17px"></div>
<div class="r rm18" style="left:328px;top:329px;height:17px"></div>
<div class="r ld2" style="left:48px;top:346px;height:17px"></div>
<div class="r rd2" style="left:328px;top:346px;height:17px"></div>
<div class="r lg" style="left:48px;top:363px;height:16px"></div>
<div class="r rd1" style="left:328px;top:363px;height:16px"></div>
<div class="r lg" style="left:48px;top:379px;height:17px"></div>
<div class="r rg" style="left:328px;top:379px;height:17px"></div>
<div style="position:absolute;left:48px;top:28px;width:1px;height:368px;background:linear-gradient(to bottom,#00aaab 0.00px,#00aaab 16.73px,#00aaa3 16.73px,#00aaa3 33.45px,#00a353 33.45px,#00a353 50.18px,#0098dd 50.18px,#0098dd 66.91px,#00aaa3 66.91px,#00aaa3 83.64px,#009a00 83.64px,#009a00 100.36px,#009a00 100.36px,#009a00 117.09px,#009a00 117.09px,#009a00 133.82px,#00a353 133.82px,#00a353 150.55px,#00aa88 150.55px,#00aa88 167.27px,#00aa88 167.27px,#00aa88 184.00px,#00aa88 184.00px,#00aa88 200.73px,#00aa88 200.73px,#00aa88 217.45px,#00aa88 217.45px,#00aa88 234.18px,#00aa88 234.18px,#00aa88 250.91px,#00aa88 250.91px,#00aa88 267.64px,#009a00 267.64px,#009a00 284.36px,#00aaa3 284.36px,#00aaa3 301.09px,#00aaab 301.09px,#00aaab 317.82px,#00aaab 317.82px,#00aaab 334.55px,#00aaab 334.55px,#00aaab 351.27px,#00aaab 351.27px,#00aaab 368.00px)"></div>
<div style="position:absolute;left:328px;top:28px;width:1px;height:368px;background:linear-gradient(to bottom,#0078dd 0.00px,#0078dd 16.73px,#0098dd 16.73px,#0098dd 33.45px,#009fcb 33.45px,#009fcb 50.18px,#0098dd 50.18px,#0098dd 66.91px,#0098dd 66.91px,#0098dd 83.64px,#0000dd 83.64px,#0000dd 100.36px,#0000dd 100.36px,#0000dd 117.09px,#0098dd 117.09px,#0098dd 133.82px,#0000dd 133.82px,#0000dd 150.55px,#0000dd 150.55px,#0000dd 167.27px,#0098dd 167.27px,#0098dd 184.00px,#0098dd 184.00px,#0098dd 200.73px,#0098dd 200.73px,#0098dd 217.45px,#0098dd 217.45px,#0098dd 234.18px,#0098dd 234.18px,#0098dd 250.91px,#0098dd 250.91px,#0098dd 267.64px,#0098dd 267.64px,#0098dd 284.36px,#0098dd 284.36px,#0098dd 301.09px,#0098dd 301.09px,#0098dd 317.82px,#009a00 317.82px,#009a00 334.55px,#0098dd 334.55px,#0098dd 351.27px,#0078dd 351.27px,#0078dd 368.00px)"></div>
<svg style="position:absolute;left:0;top:0" width="640" height="440" viewBox="0 0 640 440">
<defs>
<clipPath id="cl"><rect x="48" y="28" width="267" height="368"/></clipPath>
<clipPath id="cr"><rect x="328" y="28" width="267" height="368"/></clipPath>
</defs>
<g clip-path="url(#cl)" fill="none" stroke="#fff" stroke-linejoin="round" stroke-linecap="round">
<polyline stroke-width="3.8" points="46,300.8 92,300.8 97.5,298.5 101,293 103,288 106,278 109.4,268.5 112,257.5 114.5,249 120.4,235.5 129,222 137.5,213.5 149.4,206.5 159.6,202 171.5,196.5 180,192 186.9,190 192,191 197.5,196 203.6,209 210.5,223 215,232 220.7,245.5 226.4,254.5 235.5,266 242,274 245.5,278.5"/>
<polyline stroke-width="4" points="106,278 109,266 112,254 114.5,246 120.4,232 129,218.5 137.5,210 149.4,203 159.6,198.5 171.5,193 180,188.5 186.9,186.5 192,187.5 197.5,192 203.6,206 210.5,220 215,229 220.7,242.5 226.4,251.5 235.5,263 242,272 245.5,277"/>
<polyline stroke-width="4" points="110.0,264.0 113.0,252.4 116.0,244.0 119.0,237.0 122.0,231.2 125.0,226.5 128.0,221.8 131.0,218.2 134.0,215.2 137.0,212.2 140.0,210.3 143.0,208.5 146.0,206.8 149.0,205.0 152.0,203.6 155.0,202.3 158.0,201.0 161.0,199.6 164.0,198.2 167.0,196.8 170.0,195.4 173.0,194.0 176.0,192.4 179.0,190.8 182.0,189.7 185.0,188.8 188.0,188.5 191.0,189.1 194.0,191.0 197.0,193.6 200.0,199.5 203.0,206.2 206.0,212.4 209.0,218.5 212.0,224.5 215.0,230.5 218.0,237.6 221.0,244.5 224.0,249.2 227.0,253.8 230.0,257.5 233.0,261.3 236.0,265.2 239.0,269.1 242.0,273.0 245.0,277.1 245.5,277.8"/>
<polyline stroke-width="2" points="110.5,252 112.8,241.4 118.7,221 129,205.7 139.2,197.1 146,197.1 151,192.9 159.6,190.3 168,186.9 176.7,182.7 181.8,183.5 186.9,181.8 192,186 197,193"/>
<polyline stroke-width="2" points="112,250 113.6,246 123.9,220.3 132.4,212 142.6,205.5 151,199 161.3,194 171.5,190 180,187 186.9,184.5 193,187.5"/>
<polyline stroke-width="3.5" points="268.7,285.5 273.75,287.5 280,289.4 283.75,291.9 290,296.25 297.5,302.5 305,305 316,307"/>
<polygon fill="#fff" stroke="none" points="47,161 49.3,161 50,196 50.6,232 50.2,260 51,297 47,300"/>
<polygon fill="#fff" stroke="none" points="157.8,205 159.2,166.5 160.6,166.5 162.3,205"/>
<polygon fill="#fff" stroke="none" points="245.3,279 245.3,205 246.5,189 247.7,189 248.7,200 249.3,207 252,207.5 252.5,217 253.2,228.4 254.8,228.4 255.6,205 257.8,186.5 258.8,186.5 259.7,193 260.5,201 261.3,199 261.8,196 262.5,196 262.8,200 263.8,225 264.5,238 265.5,236 267.5,236 268.7,240 268.9,286 265.3,286 265.3,262 261.5,263 259.2,266 258.5,271 257.2,271 256.5,264 252.4,262.5 248.5,265 247.4,272 246.8,279"/>
</g>
<g clip-path="url(#cr)" fill="none" stroke="#fff" stroke-linejoin="round" stroke-linecap="round">
<polyline stroke-width="4" points="326,300.5 371,300.5 378,297.5 383.6,290.5 387.3,277.5 390,265 392.7,254 396.4,246 398.75,241.5 403.75,233 408.75,223.5 415,216.5 420,214 425,209 430,206 435,203.5 440,200.5 445,197 450,194 453,192 457,190.5 459,193 461,196.5 463.5,192 466,189 469,193 472,196 475,197.5 478.6,203 482.5,213 490.2,226.5 498,246 505.6,258 515.3,267.6 523,275.4 527,280"/>
<polyline stroke-width="4.5" points="386,284 387.5,279 390,268 393,258 398.75,245 403.75,238 408.75,228.5 415,221.5 420,219 425,214 430,211 435,208.5 440,205.5 445,203 450,201 455,199 457,197.5 461,200.5 466,196.5 470,199.5 475,202 478.6,206 482.5,216 490.2,229.5 498,249 505.6,260.5 515.3,270 523,277.5 527,282"/>
<polyline stroke-width="4" points="388.0,275.5 391.0,267.0 394.0,257.1 397.0,248.3 400.0,241.3 403.0,236.7 406.0,231.2 409.0,225.7 412.0,222.4 415.0,219.0 418.0,217.5 421.0,215.5 424.0,212.5 427.0,210.3 430.0,208.5 433.0,207.0 436.0,205.4 439.0,203.6 442.0,201.8 445.0,200.0 448.0,198.5 451.0,197.0 454.0,195.5 457.0,194.0 460.0,197.2 463.0,195.9 466.0,192.8 469.0,195.9 472.0,198.2 475.0,199.8 478.0,203.7 481.0,210.7 484.0,217.1 487.0,222.4 490.0,227.6 493.0,235.0 496.0,242.5 499.0,249.0 502.0,253.7 505.0,258.3 508.0,261.6 511.0,264.6 514.0,267.5 517.0,270.5 520.0,273.5 523.0,276.4 526.0,279.9 527.0,281.0"/>
<polyline stroke-width="3.5" points="549.5,290 555,290.3 560,292.7 563.5,290 567,294.3 572,298.3 578,302.3 585,305.5 597,306.7"/>
<polygon fill="#fff" stroke="none" points="327,192 329.4,192 330,232 330.4,260 331,297 327,300"/>
<polygon fill="#fff" stroke="none" points="438.3,204 439.4,134 441.3,134 443,204"/>
<polygon fill="#fff" stroke="none" points="526.2,282 526.2,192 527,177 528,177 528.8,190 529.6,200 530.3,192 531.5,171.5 532.6,171.5 533.2,190 533.8,198 536.3,198 537.3,192 537.8,187 538.7,187 539.2,193 539.6,190 540.8,172 541.8,172 542.3,186 542.8,189 544.8,189.5 545.2,213 549.8,213 550.7,290.7 548.4,290.7 547,237 544,236 543.5,236 541.5,265 537,265 536.8,233 533.5,233 533,272 531,276 527.5,276 527,282"/>
</g>
</svg>

<style>.t{position:absolute;white-space:nowrap;line-height:1;will-change:transform}.lab{font-size:13.9px;color:#000}.ll{text-align:right;width:40px;left:-7px;transform:scaleX(1.12);transform-origin:right}.rl{left:612px;transform:scaleX(1.12);transform-origin:left}.wt{font-size:13.9px;color:#fff;transform:scaleX(1.08);transform-origin:left}.tk{position:absolute;background:#fff;width:6px;height:1.2px}.xt{position:absolute;background:#000;width:1px;height:5.5px;top:408px}.xl{font-size:10.4px;color:#000;width:40px;text-align:center;top:418px;transform:scaleX(1.07)}.ttl{font-size:17.5px;top:2px;color:#000;width:300px;text-align:center;transform:scaleX(1.09)}</style>
<div class="t lab ll" style="top:32.1px">On</div>
<div class="t lab rl" style="top:32.1px">On</div>
<div class="t lab ll" style="top:48.8px">Y</div>
<div class="t lab rl" style="top:48.8px">Y</div>
<div class="t lab ll" style="top:65.6px">Off</div>
<div class="t lab rl" style="top:65.6px">Off</div>
<div class="t lab ll" style="top:82.3px">P</div>
<div class="t lab rl" style="top:82.3px">P</div>
<div class="t lab ll" style="top:99.0px">O</div>
<div class="t lab rl" style="top:99.0px">O</div>
<div class="t lab ll" style="top:115.8px">N</div>
<div class="t lab rl" style="top:115.8px">N</div>
<div class="t lab ll" style="top:132.5px">M</div>
<div class="t lab rl" style="top:132.5px">M</div>
<div class="t lab ll" style="top:149.2px">L</div>
<div class="t lab rl" style="top:149.2px">L</div>
<div class="t lab ll" style="top:165.9px">K</div>
<div class="t lab rl" style="top:165.9px">K</div>
<div class="t lab ll" style="top:182.7px">J</div>
<div class="t lab rl" style="top:182.7px">J</div>
<div class="t lab ll" style="top:199.4px">I</div>
<div class="t lab rl" style="top:199.4px">I</div>
<div class="t lab ll" style="top:216.1px">H</div>
<div class="t lab rl" style="top:216.1px">H</div>
<div class="t lab ll" style="top:232.8px">G</div>
<div class="t lab rl" style="top:232.8px">G</div>
<div class="t lab ll" style="top:249.6px">F</div>
<div class="t lab rl" style="top:249.6px">F</div>
<div class="t lab ll" style="top:266.3px">E</div>
<div class="t lab rl" style="top:266.3px">E</div>
<div class="t lab ll" style="top:283.0px">D</div>
<div class="t lab rl" style="top:283.0px">D</div>
<div class="t lab ll" style="top:299.8px">C</div>
<div class="t lab rl" style="top:299.8px">C</div>
<div class="t lab ll" style="top:316.5px">B</div>
<div class="t lab rl" style="top:316.5px">B</div>
<div class="t lab ll" style="top:333.2px">A</div>
<div class="t lab rl" style="top:333.2px">A</div>
<div class="t lab ll" style="top:349.9px">Off</div>
<div class="t lab rl" style="top:349.9px">Off</div>
<div class="t lab ll" style="top:366.7px">X</div>
<div class="t lab rl" style="top:366.7px">X</div>
<div class="t lab ll" style="top:383.4px">On</div>
<div class="t lab rl" style="top:383.4px">On</div>
<div style="position:absolute;left:48px;top:36.7px;width:1px;height:1.2px;background:#fff"></div>
<div style="position:absolute;left:328px;top:36.7px;width:1px;height:1.2px;background:#fff"></div>
<div style="position:absolute;left:48px;top:53.4px;width:1px;height:1.2px;background:#fff"></div>
<div style="position:absolute;left:328px;top:53.4px;width:1px;height:1.2px;background:#fff"></div>
<div style="position:absolute;left:48px;top:70.1px;width:1px;height:1.2px;background:#fff"></div>
<div style="position:absolute;left:328px;top:70.1px;width:1px;height:1.2px;background:#fff"></div>
<div style="position:absolute;left:48px;top:86.8px;width:1px;height:1.2px;background:#fff"></div>
<div style="position:absolute;left:328px;top:86.8px;width:1px;height:1.2px;background:#fff"></div>
<div style="position:absolute;left:48px;top:103.6px;width:1px;height:1.2px;background:#fff"></div>
<div style="position:absolute;left:328px;top:103.6px;width:1px;height:1.2px;background:#fff"></div>
<div style="position:absolute;left:48px;top:120.3px;width:1px;height:1.2px;background:#fff"></div>
<div style="position:absolute;left:328px;top:120.3px;width:1px;height:1.2px;background:#fff"></div>
<div style="position:absolute;left:48px;top:137.0px;width:1px;height:1.2px;background:#fff"></div>
<div style="position:absolute;left:328px;top:137.0px;width:1px;height:1.2px;background:#fff"></div>
<div style="position:absolute;left:48px;top:153.8px;width:1px;height:1.2px;background:#fff"></div>
<div style="position:absolute;left:328px;top:153.8px;width:1px;height:1.2px;background:#fff"></div>
<div style="position:absolute;left:48px;top:170.5px;width:1px;height:1.2px;background:#fff"></div>
<div style="position:absolute;left:328px;top:170.5px;width:1px;height:1.2px;background:#fff"></div>
<div style="position:absolute;left:48px;top:187.2px;width:1px;height:1.2px;background:#fff"></div>
<div style="position:absolute;left:328px;top:187.2px;width:1px;height:1.2px;background:#fff"></div>
<div style="position:absolute;left:48px;top:203.9px;width:1px;height:1.2px;background:#fff"></div>
<div style="position:absolute;left:328px;top:203.9px;width:1px;height:1.2px;background:#fff"></div>
<div style="position:absolute;left:48px;top:220.7px;width:1px;height:1.2px;background:#fff"></div>
<div style="position:absolute;left:328px;top:220.7px;width:1px;height:1.2px;background:#fff"></div>
<div style="position:absolute;left:48px;top:237.4px;width:1px;height:1.2px;background:#fff"></div>
<div style="position:absolute;left:328px;top:237.4px;width:1px;height:1.2px;background:#fff"></div>
<div style="position:absolute;left:48px;top:254.1px;width:1px;height:1.2px;background:#fff"></div>
<div style="position:absolute;left:328px;top:254.1px;width:1px;height:1.2px;background:#fff"></div>
<div style="position:absolute;left:48px;top:270.8px;width:1px;height:1.2px;background:#fff"></div>
<div style="position:absolute;left:328px;top:270.8px;width:1px;height:1.2px;background:#fff"></div>
<div style="position:absolute;left:48px;top:287.6px;width:1px;height:1.2px;background:#fff"></div>
<div style="position:absolute;left:328px;top:287.6px;width:1px;height:1.2px;background:#fff"></div>
<div style="position:absolute;left:48px;top:304.3px;width:1px;height:1.2px;background:#fff"></div>
<div style="position:absolute;left:328px;top:304.3px;width:1px;height:1.2px;background:#fff"></div>
<div style="position:absolute;left:48px;top:321.0px;width:1px;height:1.2px;background:#fff"></div>
<div style="position:absolute;left:328px;top:321.0px;width:1px;height:1.2px;background:#fff"></div>
<div style="position:absolute;left:48px;top:337.8px;width:1px;height:1.2px;background:#fff"></div>
<div style="position:absolute;left:328px;top:337.8px;width:1px;height:1.2px;background:#fff"></div>
<div style="position:absolute;left:48px;top:354.5px;width:1px;height:1.2px;background:#fff"></div>
<div style="position:absolute;left:328px;top:354.5px;width:1px;height:1.2px;background:#fff"></div>
<div style="position:absolute;left:48px;top:371.2px;width:1px;height:1.2px;background:#fff"></div>
<div style="position:absolute;left:328px;top:371.2px;width:1px;height:1.2px;background:#fff"></div>
<div style="position:absolute;left:48px;top:387.9px;width:1px;height:1.2px;background:#fff"></div>
<div style="position:absolute;left:328px;top:387.9px;width:1px;height:1.2px;background:#fff"></div>
<div class="tk" style="left:69px;top:42.8px"></div>
<div class="t wt" style="left:79px;top:38.4px">25</div>
<div class="tk" style="left:349.8px;top:42.8px"></div>
<div class="t wt" style="left:358.5px;top:38.4px">25</div>
<div class="t wt" style="left:252.3px;width:60px;text-align:right;top:38.4px">25</div>
<div class="t wt" style="left:-27.7px;width:60px;text-align:right;opacity:0.5;top:38.4px">25</div>
<div class="tk" style="left:69px;top:90.8px"></div>
<div class="t wt" style="left:79px;top:86.4px">20</div>
<div class="tk" style="left:349.8px;top:90.8px"></div>
<div class="t wt" style="left:358.5px;top:86.4px">20</div>
<div class="t wt" style="left:252.3px;width:60px;text-align:right;top:86.4px">20</div>
<div class="t wt" style="left:-27.7px;width:60px;text-align:right;opacity:0.5;top:86.4px">20</div>
<div class="tk" style="left:69px;top:138.8px"></div>
<div class="t wt" style="left:79px;top:134.3px">15</div>
<div class="tk" style="left:349.8px;top:138.8px"></div>
<div class="t wt" style="left:358.5px;top:134.3px">15</div>
<div class="t wt" style="left:252.3px;width:60px;text-align:right;top:134.3px">15</div>
<div class="t wt" style="left:-27.7px;width:60px;text-align:right;opacity:0.5;top:134.3px">15</div>
<div class="tk" style="left:69px;top:186.8px"></div>
<div class="t wt" style="left:79px;top:182.3px">10</div>
<div class="tk" style="left:349.8px;top:186.8px"></div>
<div class="t wt" style="left:358.5px;top:182.3px">10</div>
<div class="t wt" style="left:252.3px;width:60px;text-align:right;top:182.3px">10</div>
<div class="t wt" style="left:-27.7px;width:60px;text-align:right;opacity:0.5;top:182.3px">10</div>
<div class="tk" style="left:69px;top:234.8px"></div>
<div class="t wt" style="left:79px;top:230.3px">5</div>
<div class="tk" style="left:349.8px;top:234.8px"></div>
<div class="t wt" style="left:358.5px;top:230.3px">5</div>
<div class="t wt" style="left:252.3px;width:60px;text-align:right;top:230.3px">5</div>
<div class="tk" style="left:69px;top:282.8px"></div>
<div class="t wt" style="left:79px;top:278.3px">0</div>
<div class="tk" style="left:349.8px;top:282.8px"></div>
<div class="t wt" style="left:358.5px;top:278.3px">0</div>
<div class="t wt" style="left:252.3px;width:60px;text-align:right;top:278.3px">0</div>
<div class="xt" style="left:48.7px"></div>
<div class="t xl" style="left:28.2px">0</div>
<div class="xt" style="left:89.4px"></div>
<div class="t xl" style="left:68.9px">50</div>
<div class="xt" style="left:130.1px"></div>
<div class="t xl" style="left:109.6px">100</div>
<div class="xt" style="left:170.8px"></div>
<div class="t xl" style="left:150.3px">150</div>
<div class="xt" style="left:211.5px"></div>
<div class="t xl" style="left:191.0px">200</div>
<div class="xt" style="left:252.2px"></div>
<div class="t xl" style="left:231.7px">250</div>
<div class="xt" style="left:292.9px"></div>
<div class="t xl" style="left:272.4px">300</div>
<div class="xt" style="left:328.9px"></div>
<div class="t xl" style="left:308.4px">0</div>
<div class="xt" style="left:369.6px"></div>
<div class="t xl" style="left:349.1px">50</div>
<div class="xt" style="left:410.3px"></div>
<div class="t xl" style="left:389.8px">100</div>
<div class="xt" style="left:451.0px"></div>
<div class="t xl" style="left:430.5px">150</div>
<div class="xt" style="left:491.7px"></div>
<div class="t xl" style="left:471.2px">200</div>
<div class="xt" style="left:532.4px"></div>
<div class="t xl" style="left:511.9px">250</div>
<div class="xt" style="left:573.1px"></div>
<div class="t xl" style="left:552.6px">300</div>
<div class="t ttl" style="left:32px">33.6 (Tile096=96) X</div>
<div class="t ttl" style="left:312.5px">33.6 (Tile096=96) Y</div>
<div class="t lab" style="left:-20.8px;top:212.5px;transform:rotate(-90deg);transform-origin:center">Dipole</div>
</body></html>
